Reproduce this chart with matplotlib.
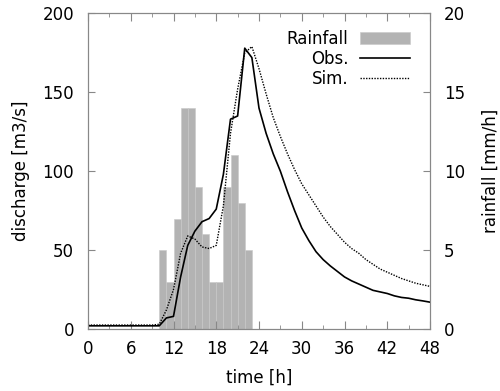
import numpy as np
import matplotlib
matplotlib.use("Agg")
from matplotlib import pyplot as plt
from matplotlib.ticker import MultipleLocator

# hourly data
hours = list(range(0, 49))
obs = [2, 2, 2, 2, 2, 2, 2, 2, 2, 2,
       2, 7, 8, 33, 53, 62, 68, 70, 76, 98,
       133, 135, 178, 172, 140, 124, 111, 100, 87, 75,
       64, 56, 49, 44, 40, 36.5, 33, 30.5, 28.5, 26.5,
       24.5, 23.5, 22.5, 21, 20, 19.5, 18.5, 17.8, 17]
sim = [2.5, 2.5, 2.5, 2.5, 2.5, 2.5, 2.5, 2.5, 2.5, 2.5,
       3, 12, 25, 48, 59, 57, 52, 51, 53, 78,
       124, 152, 175, 179, 165, 149, 134, 122, 111, 101,
       92, 85, 78, 71, 65, 60, 55, 51, 48, 44,
       41, 38, 36, 34, 32, 30.5, 29, 28, 27]
rain_hours = list(range(10, 23))
rain = [5, 3, 7, 14, 14, 9, 6, 3, 3, 9, 11, 8, 5]

plt.rcParams['font.family'] = 'DejaVu Sans'
plt.rcParams['font.size'] = 12
gray = '#888888'

fig = plt.figure(figsize=(5.0, 3.91), dpi=100)
ax = fig.add_axes([0.176, 0.1586, 0.684, 0.807])
ax2 = ax.twinx()

bars = ax2.bar(rain_hours, rain, width=1.0, align='edge', color='#b3b3b3',
               edgecolor='#c8c8c8', linewidth=0.4, label='Rainfall')
ax2.set_ylim(0, 20)
ax2.set_yticks([0, 5, 10, 15, 20])
ax2.set_ylabel('rainfall [mm/h]', labelpad=12)

ax.set_zorder(ax2.get_zorder() + 1)
ax.patch.set_visible(False)
l1, = ax.plot(hours, obs, color='black', lw=1.2, label='Obs.')
l2, = ax.plot(hours, sim, color='black', lw=1.0, ls=(0, (1, 1)), label='Sim.')

ax.set_xlim(0, 48)
ax.set_ylim(0, 200)
ax.xaxis.set_major_locator(MultipleLocator(6))
ax.xaxis.set_minor_locator(MultipleLocator(3))
ax.set_yticks([0, 50, 100, 150, 200])
ax.set_xlabel('time [h]', labelpad=8)
ax.set_ylabel('discharge [m3/s]', labelpad=9)

for a in (ax, ax2):
    for s in a.spines.values():
        s.set_color(gray)
        s.set_linewidth(0.8)
ax.tick_params(axis='x', which='both', direction='in', top=True, color=gray, pad=8)
ax.tick_params(axis='x', which='major', length=6)
ax.tick_params(axis='x', which='minor', length=3)
ax.tick_params(axis='y', direction='in', length=5, color=gray, pad=10)
ax2.tick_params(axis='y', direction='in', length=5, color=gray, pad=10)

ax.legend([bars, l1, l2], ['Rainfall', 'Obs.', 'Sim.'], loc='upper right',
          frameon=False, markerfirst=False, handlelength=3.0,
          borderaxespad=0.6, borderpad=0.4, labelspacing=0.12,
          handletextpad=0.7, bbox_to_anchor=(0.99, 1.0))

fig.savefig('out.png', dpi=100)
